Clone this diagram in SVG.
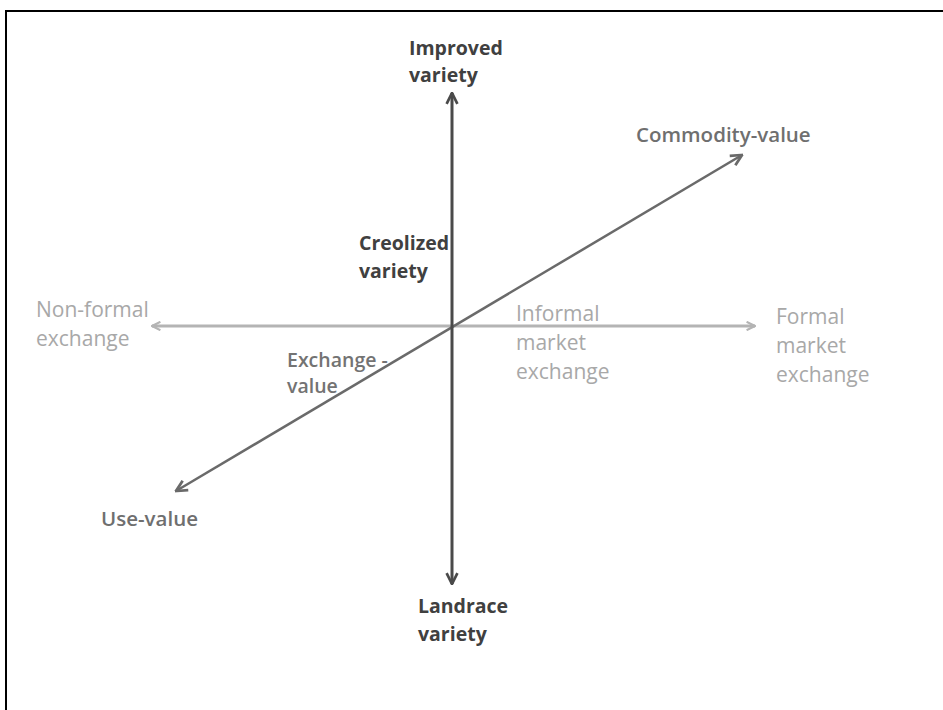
<svg xmlns="http://www.w3.org/2000/svg" width="943" height="710" viewBox="0 0 943 710">
<defs>
<marker id="ad" viewBox="0 0 10 10" refX="9" refY="5" markerWidth="4.5" markerHeight="4.5" orient="auto-start-reverse"><path d="M1,1 L9,5 L1,9" fill="none" stroke="#4a4a4a" stroke-width="2"/></marker>
<marker id="am" viewBox="0 0 10 10" refX="9" refY="5" markerWidth="5.5" markerHeight="5.5" orient="auto-start-reverse"><path d="M1,1 L9,5 L1,9" fill="none" stroke="#6a6a6a" stroke-width="2"/></marker>
<marker id="al" viewBox="0 0 10 10" refX="9" refY="5" markerWidth="3.5" markerHeight="3.5" orient="auto-start-reverse"><path d="M1,1 L9,5 L1,9" fill="none" stroke="#b4b4b4" stroke-width="2"/></marker>
</defs>
<style>
text{font-family:"Open Sans","Liberation Sans",sans-serif;font-size:19.5px}
.d{fill:#404040;font-weight:bold}
.m{fill:#6f6f6f;font-weight:600;font-size:20.5px}
.l{fill:#a8a8a8;font-size:21px}
.lm{fill:#737373;font-weight:600;font-size:19.5px}
</style>
<rect x="0" y="0" width="943" height="710" fill="#fff"/>
<path d="M6,720 V11 H950" fill="none" stroke="#000" stroke-width="2"/>
<g id="connectors">
<line x1="152" y1="326" x2="755" y2="326" stroke="#b4b4b4" stroke-width="3" marker-start="url(#al)" marker-end="url(#al)"/>
<line x1="176" y1="491" x2="742" y2="155" stroke="#6a6a6a" stroke-width="2.5" marker-start="url(#am)" marker-end="url(#am)"/>
<line x1="452" y1="93" x2="452" y2="584" stroke="#4a4a4a" stroke-width="3" marker-start="url(#ad)" marker-end="url(#ad)"/>
</g>
<g id="improved"><text class="d" x="409" y="55">Improved</text><text class="d" x="409" y="82">variety</text></g>
<g id="commodity"><text class="m" x="636" y="142">Commodity-value</text></g>
<g id="creolized"><text class="d" x="359" y="250">Creolized</text><text class="d" x="359" y="278">variety</text></g>
<g id="nonformal"><text class="l" x="36" y="317">Non-formal</text><text class="l" x="36" y="346">exchange</text></g>
<g id="informal"><text class="l" x="516" y="321">Informal</text><text class="l" x="516" y="350">market</text><text class="l" x="516" y="379">exchange</text></g>
<g id="formal"><text class="l" x="776" y="324">Formal</text><text class="l" x="776" y="353">market</text><text class="l" x="776" y="382">exchange</text></g>
<g id="exchange"><text class="lm" x="287" y="367">Exchange -</text><text class="lm" x="287" y="393">value</text></g>
<g id="usevalue"><text class="m" x="101" y="526">Use-value</text></g>
<g id="landrace"><text class="d" x="418" y="613">Landrace</text><text class="d" x="418" y="641">variety</text></g>
</svg>
